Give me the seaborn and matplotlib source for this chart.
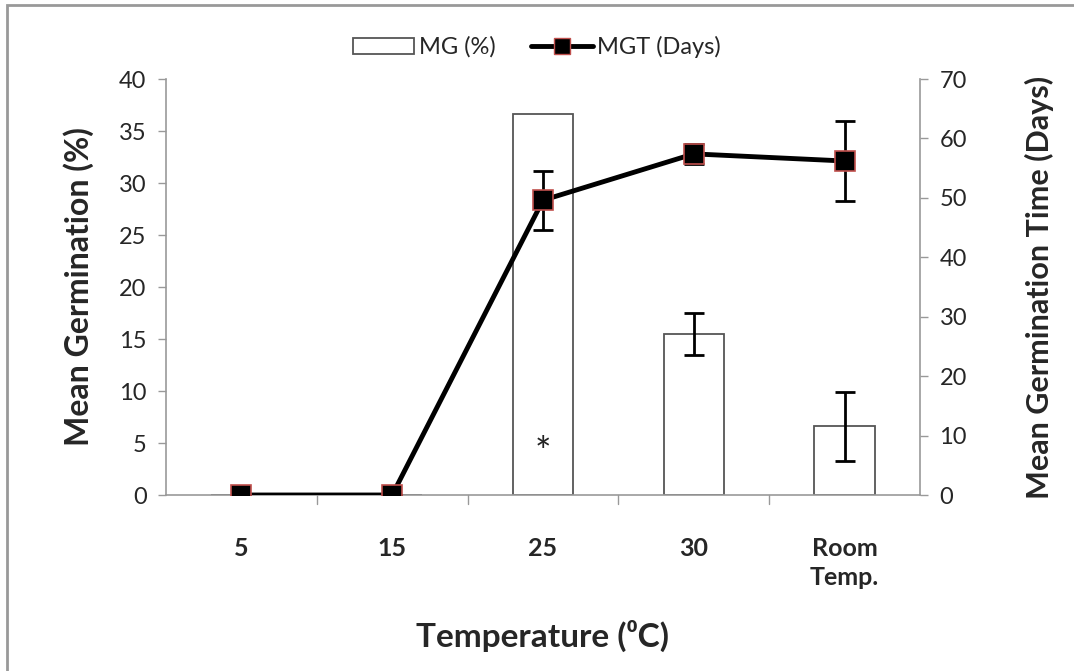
import numpy as np
import pandas as pd
import matplotlib
matplotlib.use("Agg")
import matplotlib.pyplot as plt
import seaborn as sns
from matplotlib.patches import Rectangle
from matplotlib.lines import Line2D

# data
temps = ["5", "15", "25", "30", "Room\nTemp."]
mg = [0.0, 0.0, 36.6, 15.5, 6.6]          # mean germination (%)
mg_err = [0.0, 0.0, 0.0, 2.0, 3.3]
mgt = [0.0, 0.0, 49.6, 57.4, 56.2]        # mean germination time (days)
mgt_err = [0.0, 0.0, 5.0, 1.7, 6.8]

sns.set_style("white")
plt.rcParams["font.family"] = ["Lato", "DejaVu Sans"]

df = pd.DataFrame({"temp": temps, "mg": mg, "mgt": mgt})
pos = np.arange(len(temps))

fig = plt.figure(figsize=(10.74, 6.71), dpi=100)
ax = fig.add_axes([166 / 1074, 1 - 495 / 671, (920 - 166) / 1074, (495 - 79) / 671])

sns.barplot(data=df, x="temp", y="mg", ax=ax, color="white", edgecolor="#555555",
            linewidth=1.3, width=0.4, errorbar=None, saturation=1)
ax.errorbar(pos[3:], mg[3:], yerr=mg_err[3:], fmt="none", ecolor="black",
            elinewidth=2, capsize=7, capthick=2)
ax.text(2, 3.9, "*", ha="center", va="center", fontsize=28, color="#222222")

ax.set_ylim(0, 40)
ax.set_xlim(-0.5, len(temps) - 0.5)
ax.set_yticks(range(0, 41, 5))
ax.set_xticks(pos)
ax.set_xticklabels(temps, fontsize=18, fontweight="bold", linespacing=1.35)
ax.tick_params(axis="x", length=0, pad=30)
ax.tick_params(axis="y", labelsize=17, length=6, width=1, color="#999999", direction="out", pad=8)
for b in np.arange(0.5, len(temps) - 0.5, 1):
    ax.plot([b, b], [0, -0.9], color="#999999", lw=1, clip_on=False)
ax.set_xlabel("Temperature (\u2070C)", fontsize=24, fontweight="bold", labelpad=22)
ax.set_ylabel("Mean Germination (%)", fontsize=23, fontweight="bold", labelpad=18)
for s in ["top", "right"]:
    ax.spines[s].set_visible(False)
for s in ["left", "bottom"]:
    ax.spines[s].set_color("#999999")
    ax.spines[s].set_linewidth(1.2)

ax2 = ax.twinx()
ax2.errorbar(pos, mgt, yerr=mgt_err, fmt="none", ecolor="black", elinewidth=2,
             capsize=7, capthick=2, zorder=3)
sns.lineplot(x=pos, y=mgt, ax=ax2, color="black", lw=3.5, marker="s", markersize=15,
             markerfacecolor="black", markeredgecolor="#c0504d", markeredgewidth=1.2, zorder=4)
ax2.set_ylim(0, 70)
ax2.set_yticks(range(0, 71, 10))
ax2.tick_params(axis="y", labelsize=17, length=6, width=1, color="#999999", direction="out", pad=8)
ax2.set_ylabel("Mean Germination Time (Days)", fontsize=22, fontweight="bold", labelpad=42)
for s in ["top", "left", "bottom"]:
    ax2.spines[s].set_visible(False)
ax2.spines["right"].set_color("#999999")
ax2.spines["right"].set_linewidth(1.2)

handles = [Rectangle((0, 0), 1, 1, facecolor="white", edgecolor="#555555", lw=1.3),
           Line2D([0], [0], color="black", lw=3.5, marker="s", markersize=11,
                  markerfacecolor="black", markeredgecolor="#c0504d")]
fig.legend(handles, ["MG (%)", "MGT (Days)"], loc="center", bbox_to_anchor=(0.5, 1 - 47 / 671),
           ncol=2, frameon=False, fontsize=17, handlelength=2.6, columnspacing=1.5, handletextpad=0.2)

fig.patches.append(Rectangle((7 / 1074, -0.1), 1.2, 1.1 - 5 / 671, transform=fig.transFigure,
                             fill=False, edgecolor="#999999", lw=2))

fig.savefig("out.png", dpi=100)
